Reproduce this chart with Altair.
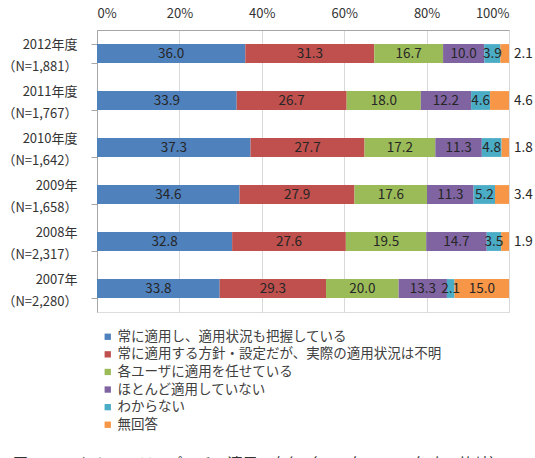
import altair as alt
import pandas as pd

# Survey years (label line 1 / line 2 = sample size)
years = [
    "2012年度\n（N=1,881）",
    "2011年度\n（N=1,767）",
    "2010年度\n（N=1,642）",
    "2009年\n（N=1,658）",
    "2008年\n（N=2,317）",
    "2007年\n（N=2,280）",
]

categories = [
    "常に適用し、適用状況も把握している",
    "常に適用する方針・設定だが、実際の適用状況は不明",
    "各ユーザに適用を任せている",
    "ほとんど適用していない",
    "わからない",
    "無回答",
]

colors = ["#4F81BD", "#C0504D", "#9BBB59", "#8064A2", "#4BACC6", "#F79646"]

# Percentages per year, in category order
v2012 = [36.0, 31.3, 16.7, 10.0, 3.9, 2.1]
v2011 = [33.9, 26.7, 18.0, 12.2, 4.6, 4.6]
v2010 = [37.3, 27.7, 17.2, 11.3, 4.8, 1.8]
v2009 = [34.6, 27.9, 17.6, 11.3, 5.2, 3.4]
v2008 = [32.8, 27.6, 19.5, 14.7, 3.5, 1.9]
v2007 = [33.8, 29.3, 20.0, 13.3, 2.1, 15.0]
series = [v2012, v2011, v2010, v2009, v2008, v2007]

caption = "図 2-3-11 セキュリティパッチの適用の有無（2007年～2012年度の比較）"

rows = []
for yr, vals in zip(years, series):
    for i, (cat, val) in enumerate(zip(categories, vals)):
        rows.append({"year": yr, "cat": cat, "order": i, "value": val})
df = pd.DataFrame(rows)

FONT = "Noto Sans CJK JP"

# Each bar is normalised to 100%; segment start/end/middle are derived here
base = (
    alt.Chart(df)
    .transform_joinaggregate(total="sum(value)", groupby=["year"])
    .transform_calculate(pct="datum.value / datum.total")
    .transform_window(
        cum="sum(pct)",
        groupby=["year"],
        sort=[alt.SortField("order")],
        frame=[None, 0],
    )
    .transform_calculate(
        start="datum.cum - datum.pct",
        mid="datum.cum - datum.pct / 2",
        outside="datum.order == 5 && datum.value < 5",
    )
)

y_enc = alt.Y(
    "year:N",
    sort=years,
    title=None,
    scale=alt.Scale(paddingInner=0.6, paddingOuter=0.3),
    axis=alt.Axis(
        labelExpr="split(datum.label, '\\n')",
        labelFontSize=13,
        labelFont=FONT,
        labelColor="#333333",
        labelLineHeight=22,
        labelPadding=14,
        labelOffset=-9,
        labelLimit=200,
        tickBand="extent",
        tickSize=6,
        tickColor="#a6a6a6",
        domainColor="#a6a6a6",
        grid=False,
    ),
)

bars = base.mark_bar().encode(
    x=alt.X(
        "start:Q",
        scale=alt.Scale(domain=[0, 1], nice=False),
        title=None,
        axis=alt.Axis(
            orient="top",
            format="%",
            values=[0, 0.2, 0.4, 0.6, 0.8, 1.0],
            labelFontSize=13,
            labelFont=FONT,
            labelColor="#333333",
            labelPadding=10,
            ticks=False,
            domain=True,
            domainColor="#a6a6a6",
            grid=True,
            gridColor="#d9d9d9",
        ),
    ),
    x2="cum:Q",
    y=y_enc,
    color=alt.Color(
        "cat:N",
        scale=alt.Scale(domain=categories, range=colors),
        sort=categories,
        title=None,
        legend=alt.Legend(
            orient="none",
            legendX=4,
            legendY=300,
            padding=0,
            symbolType="square",
            symbolSize=40,
            symbolStrokeWidth=0,
            labelFontSize=13.5,
            labelFont=FONT,
            labelColor="#404040",
            labelLimit=400,
            rowPadding=2.6,
            labelOffset=3,
        ),
    ),
    order=alt.Order("order:Q"),
)

inside = base.transform_filter("!datum.outside").mark_text(
    fontSize=13.5, font=FONT, color="#262626"
).encode(
    x="mid:Q",
    y=alt.Y("year:N", sort=years),
    text=alt.Text("value:Q", format=".1f"),
)

outside = base.transform_filter("datum.outside").mark_text(
    fontSize=13.5, font=FONT, color="#262626", align="left", dx=5
).encode(
    x="cum:Q",
    y=alt.Y("year:N", sort=years),
    text=alt.Text("value:Q", format=".1f"),
)

cap = alt.Chart(pd.DataFrame({"t": [caption]})).mark_text(
    fontSize=15, font=FONT, color="#333333", align="left", baseline="top"
).encode(
    x=alt.value(-84),
    y=alt.value(427),
    text="t:N",
)

chart = (
    alt.layer(bars, inside, outside, cap)
    .properties(
        width=412,
        height=282,
        autosize=alt.AutoSizeParams(type="none"),
        padding={"left": 97, "top": 30, "right": 26, "bottom": 146},
    )
    .configure_view(stroke=None)
    .configure(background="white")
)

chart.save("out.html", embed_options={"renderer": "svg", "actions": False})
